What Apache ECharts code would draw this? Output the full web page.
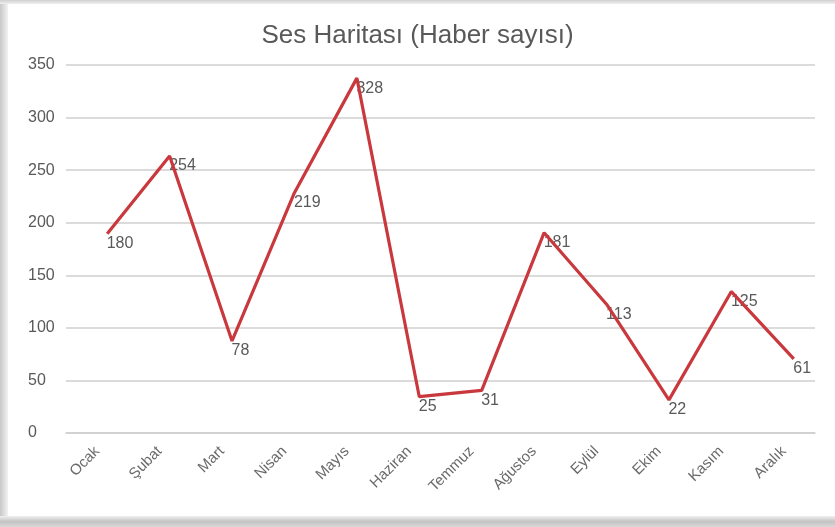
<!DOCTYPE html>
<html>
<head>
<meta charset="utf-8">
<script src="https://cdn.jsdelivr.net/npm/echarts@6/dist/echarts.min.js"></script>
<style>
html,body{margin:0;padding:0;background:#fff;}
#c{width:835px;height:527px;}
</style>
</head>
<body>
<div id="c"></div>
<script>
var titleText = 'Ses Haritası (Haber sayısı)';
var months = ['Ocak','Şubat','Mart','Nisan','Mayıs','Haziran','Temmuz','Ağustos','Eylül','Ekim','Kasım','Aralık'];
var haberSayisi = [180, 254, 78, 219, 328, 25, 31, 181, 113, 22, 125, 61];
var yMin = 0, yMax = 350, yStep = 50;

var textColor = '#595959';
var font = 'Liberation Sans';
var chart = echarts.init(document.getElementById('c'), null, {renderer:'canvas'});
chart.setOption({
  animation: false,
  backgroundColor: '#ffffff',
  textStyle: {fontFamily: font},
  title: {
    text: titleText, left: 'center', top: 18,
    textStyle: {fontSize: 26, fontWeight: 'normal', color: textColor, fontFamily: font}
  },
  graphic: [
    {type:'rect', shape:{x:0,y:0,width:8,height:520}, style:{fill:new echarts.graphic.LinearGradient(0,0,1,0,[{offset:0,color:'#c8c8c8'},{offset:1,color:'#f2f2f2'}])}, silent:true},
    {type:'rect', shape:{x:0,y:0,width:835,height:4}, style:{fill:new echarts.graphic.LinearGradient(0,0,0,1,[{offset:0,color:'#cfcfcf'},{offset:1,color:'#f0f0f0'}])}, silent:true},
    {type:'rect', shape:{x:0,y:516,width:835,height:11}, style:{fill:new echarts.graphic.LinearGradient(0,0,0,1,[{offset:0,color:'#f0f0f0'},{offset:0.5,color:'#c4c4c4'},{offset:1,color:'#d8d8d8'}])}, silent:true}
  ],
  grid: [
    {left: 66, right: 20, top: 65, bottom: 94},
    {left: 76, right: 10, top: 55, bottom: 104}
  ],
  xAxis: [
    {
      type: 'category', data: months, gridIndex: 0, boundaryGap: true,
      axisLine: {show: true, lineStyle: {color: '#cfcfcf', width: 1.5}},
      axisTick: {show: false},
      axisLabel: {rotate: 45, color: '#6a6a6a', fontSize: 15, margin: 16, fontFamily: font, interval: 0}
    },
    {type: 'category', data: months, gridIndex: 1, boundaryGap: true, show: false}
  ],
  yAxis: [
    {
      type: 'value', gridIndex: 0, min: yMin, max: yMax, interval: yStep,
      axisLine: {show: false}, axisTick: {show: false},
      axisLabel: {color: textColor, fontSize: 16, margin: 38, align: 'left', fontFamily: font},
      splitLine: {lineStyle: {color: '#cfcfcf', width: 1.5}}
    },
    {type: 'value', gridIndex: 1, min: yMin, max: yMax, interval: yStep, show: false, splitLine: {show: false}}
  ],
  series: [
    {
      type: 'line', xAxisIndex: 0, yAxisIndex: 0, data: haberSayisi,
      symbol: 'circle', symbolSize: 1, itemStyle: {color: 'transparent'},
      lineStyle: {opacity: 0},
      label: {show: true, position: 'right', distance: 9, color: textColor, fontSize: 16, fontFamily: font},
      z: 2
    },
    {
      type: 'line', xAxisIndex: 1, yAxisIndex: 1, data: haberSayisi,
      symbol: 'none', lineStyle: {color: '#c9383d', width: 3.2},
      z: 3
    }
  ]
});
</script>
</body>
</html>
